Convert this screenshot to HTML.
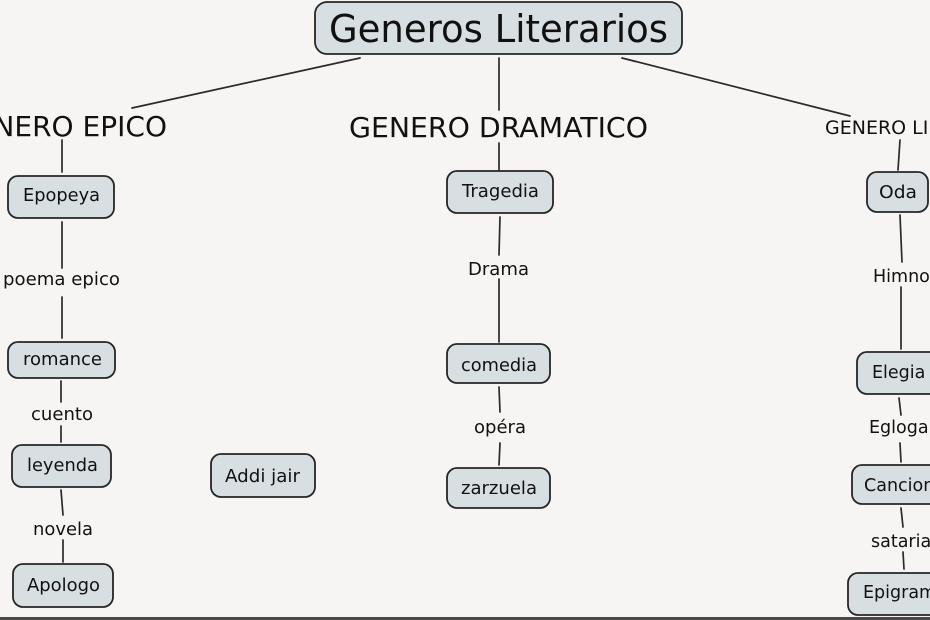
<!DOCTYPE html>
<html>
<head>
<meta charset="utf-8">
<style>
  html,body{margin:0;padding:0;background:#f6f5f3;}
  body{width:930px;height:620px;overflow:hidden;}
  svg{display:block;}
  text{font-family:"DejaVu Sans","Liberation Sans",sans-serif;fill:#111;}
</style>
</head>
<body>
<svg width="930" height="620" viewBox="0 0 930 620" xmlns="http://www.w3.org/2000/svg">
  <rect x="0" y="0" width="930" height="620" fill="#f6f5f3"/>
  <rect x="0" y="617" width="930" height="3" fill="#4a4a4a"/>

  <!-- connectors -->
  <g stroke="#2a2a2a" stroke-width="1.7" fill="none" stroke-linecap="round">
    <line x1="360" y1="58" x2="132" y2="108"/>
    <line x1="499" y1="58" x2="499" y2="110"/>
    <line x1="622" y1="58" x2="850" y2="116"/>

    <line x1="62" y1="140" x2="62" y2="172"/>
    <line x1="62" y1="222" x2="62" y2="268"/>
    <line x1="62" y1="297" x2="62" y2="338"/>
    <line x1="61" y1="381" x2="61" y2="402"/>
    <line x1="61" y1="426" x2="61" y2="442"/>
    <line x1="61" y1="490" x2="63" y2="515"/>
    <line x1="63" y1="540" x2="63" y2="562"/>

    <line x1="499" y1="143" x2="499" y2="170"/>
    <line x1="500" y1="217" x2="499" y2="255"/>
    <line x1="499" y1="279" x2="499" y2="342"/>
    <line x1="499" y1="387" x2="500" y2="412"/>
    <line x1="500" y1="443" x2="499" y2="465"/>

    <line x1="900" y1="140" x2="898" y2="170"/>
    <line x1="900" y1="215" x2="902" y2="262"/>
    <line x1="901" y1="287" x2="901" y2="349"/>
    <line x1="899" y1="398" x2="901" y2="415"/>
    <line x1="900" y1="443" x2="901" y2="462"/>
    <line x1="901" y1="508" x2="903" y2="527"/>
    <line x1="903" y1="552" x2="904" y2="569"/>
  </g>

  <!-- boxes -->
  <g fill="#d8dfe2" stroke="#262626" stroke-width="1.8">
    <rect x="315" y="2" width="367" height="52" rx="12"/>
    <rect x="8" y="176" width="106" height="42" rx="10"/>
    <rect x="8" y="342" width="107" height="36" rx="10"/>
    <rect x="12" y="445" width="99" height="42" rx="10"/>
    <rect x="13" y="564" width="100" height="43" rx="10"/>
    <rect x="211" y="454" width="104" height="43" rx="10"/>
    <rect x="447" y="171" width="106" height="42" rx="10"/>
    <rect x="447" y="344" width="103" height="39" rx="10"/>
    <rect x="447" y="468" width="103" height="40" rx="10"/>
    <rect x="867" y="172" width="61" height="40" rx="10"/>
    <rect x="857" y="352" width="90" height="42" rx="10"/>
    <rect x="852" y="465" width="100" height="39" rx="10"/>
    <rect x="848" y="573" width="110" height="42" rx="10"/>
  </g>

  <!-- title & headers -->
  <text x="329" y="42" font-size="38" textLength="339" lengthAdjust="spacingAndGlyphs">Generos Literarios</text>
  <text x="-46" y="136" font-size="28" textLength="213" lengthAdjust="spacingAndGlyphs">GENERO EPICO</text>
  <text x="349" y="137" font-size="28" textLength="299" lengthAdjust="spacingAndGlyphs">GENERO DRAMATICO</text>
  <text x="825" y="134" font-size="19">GENERO LIRICO</text>

  <!-- left column -->
  <text x="23" y="201" font-size="17.5" textLength="77" lengthAdjust="spacingAndGlyphs">Epopeya</text>
  <text x="3" y="285" font-size="17.5" textLength="117" lengthAdjust="spacingAndGlyphs">poema epico</text>
  <text x="23" y="365" font-size="17.5" textLength="79" lengthAdjust="spacingAndGlyphs">romance</text>
  <text x="31" y="420" font-size="17.5" textLength="62" lengthAdjust="spacingAndGlyphs">cuento</text>
  <text x="27" y="471" font-size="17.5" textLength="71" lengthAdjust="spacingAndGlyphs">leyenda</text>
  <text x="33" y="535" font-size="17.5" textLength="60" lengthAdjust="spacingAndGlyphs">novela</text>
  <text x="27" y="591" font-size="17.5" textLength="73" lengthAdjust="spacingAndGlyphs">Apologo</text>
  <text x="225" y="482" font-size="17.5" textLength="75" lengthAdjust="spacingAndGlyphs">Addi jair</text>

  <!-- middle column -->
  <text x="462" y="197" font-size="17.5" textLength="77" lengthAdjust="spacingAndGlyphs">Tragedia</text>
  <text x="468" y="275" font-size="17.5" textLength="61" lengthAdjust="spacingAndGlyphs">Drama</text>
  <text x="461" y="371" font-size="17.5" textLength="76" lengthAdjust="spacingAndGlyphs">comedia</text>
  <text x="474" y="433" font-size="17.5" textLength="52" lengthAdjust="spacingAndGlyphs">opéra</text>
  <text x="461" y="494" font-size="17.5" textLength="76" lengthAdjust="spacingAndGlyphs">zarzuela</text>

  <!-- right column -->
  <text x="879" y="198" font-size="17.5" textLength="38" lengthAdjust="spacingAndGlyphs">Oda</text>
  <text x="873" y="282" font-size="17.5">Himno</text>
  <text x="872" y="378" font-size="17.5">Elegia</text>
  <text x="869" y="433" font-size="17.5">Egloga</text>
  <text x="864" y="491" font-size="17.5">Cancion</text>
  <text x="871" y="547" font-size="17.5">sataria</text>
  <text x="863" y="598" font-size="17.5">Epigrama</text>
</svg>
</body>
</html>
